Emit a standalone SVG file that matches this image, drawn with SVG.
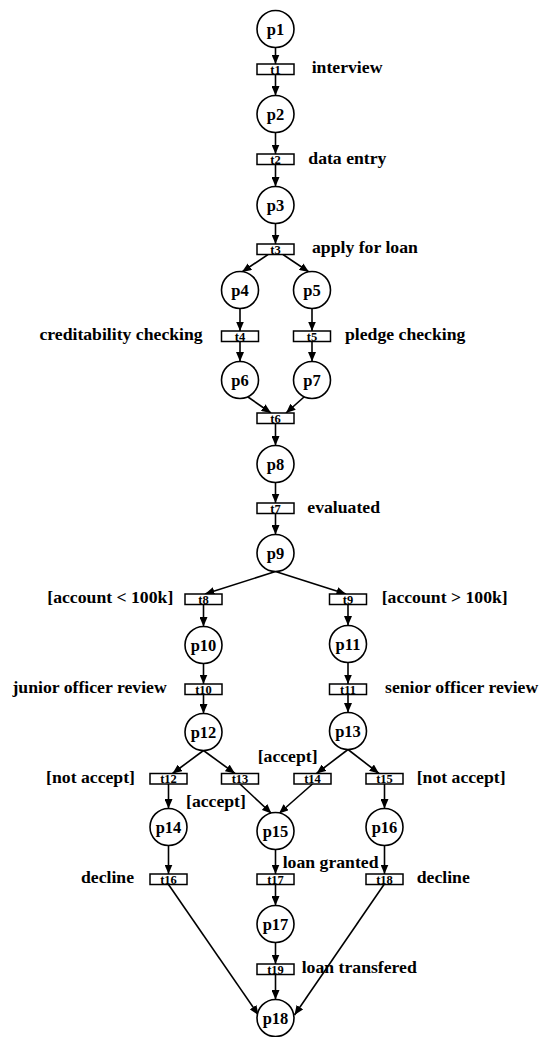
<svg xmlns="http://www.w3.org/2000/svg" width="541" height="1037" viewBox="0 0 541 1037">
  <style>
    .place { fill: #ffffff; stroke: #000000; stroke-width: 1.6; }
    .trans { fill: #ffffff; stroke: #000000; stroke-width: 1.5; }
    .arc { fill: none; stroke: #000000; stroke-width: 1.6; marker-end: url(#arrow); }
    text { font-family: "Liberation Serif", "Times New Roman", serif; font-weight: bold; fill: #000000; }
    .pl { font-size: 16.5px; text-anchor: middle; }
    .tl { font-size: 12.5px; text-anchor: middle; }
    .lab { font-size: 17.7px; }
    .end { text-anchor: end; }
  </style>
  <defs>
    <marker id="arrow" markerUnits="userSpaceOnUse" markerWidth="10" markerHeight="8" refX="9.5" refY="4" orient="auto">
      <path d="M0,0 L9.5,4 L0,8 z" fill="#000000"/>
    </marker>
  </defs>
  <rect width="541" height="1037" fill="#ffffff"/>

  <!-- arcs -->
  <g id="connectors">
    <line class="arc" x1="275.5" y1="47.5" x2="275.5" y2="64"/>
    <line class="arc" x1="275.5" y1="74.5" x2="275.5" y2="95.5"/>
    <line class="arc" x1="275.5" y1="132.5" x2="275.5" y2="154"/>
    <line class="arc" x1="275.5" y1="164.5" x2="275.5" y2="186.5"/>
    <line class="arc" x1="275.5" y1="223.5" x2="275.5" y2="244"/>
    <line class="arc" x1="268" y1="254.5" x2="242" y2="272"/>
    <line class="arc" x1="283" y1="254.5" x2="309" y2="272"/>
    <line class="arc" x1="240" y1="308.5" x2="240" y2="331"/>
    <line class="arc" x1="312" y1="308.5" x2="312" y2="331"/>
    <line class="arc" x1="240" y1="341.5" x2="240" y2="361.5"/>
    <line class="arc" x1="312" y1="341.5" x2="312" y2="361.5"/>
    <line class="arc" x1="248" y1="397" x2="271" y2="413"/>
    <line class="arc" x1="304" y1="397" x2="286" y2="413"/>
    <line class="arc" x1="275.5" y1="423.5" x2="275.5" y2="445.5"/>
    <line class="arc" x1="275.5" y1="482.5" x2="275.5" y2="503"/>
    <line class="arc" x1="275.5" y1="513.5" x2="275.5" y2="534.5"/>
    <line class="arc" x1="275.5" y1="571.5" x2="205" y2="594"/>
    <line class="arc" x1="275.5" y1="571.5" x2="346" y2="594"/>
    <line class="arc" x1="203.5" y1="604.5" x2="203.5" y2="626.5"/>
    <line class="arc" x1="348" y1="604.5" x2="348" y2="625.5"/>
    <line class="arc" x1="203.5" y1="663.5" x2="203.5" y2="684"/>
    <line class="arc" x1="348" y1="662.5" x2="348" y2="684"/>
    <line class="arc" x1="203.5" y1="694.5" x2="203.5" y2="713.5"/>
    <line class="arc" x1="348" y1="694.5" x2="348" y2="712.5"/>
    <line class="arc" x1="203.5" y1="750.5" x2="172.5" y2="773.5"/>
    <line class="arc" x1="203.5" y1="750.5" x2="235" y2="773.5"/>
    <line class="arc" x1="348" y1="749.5" x2="316.5" y2="773.5"/>
    <line class="arc" x1="348" y1="749.5" x2="379" y2="773.5"/>
    <line class="arc" x1="168.5" y1="784" x2="168.5" y2="808.5"/>
    <line class="arc" x1="240" y1="784" x2="271.5" y2="813.5"/>
    <line class="arc" x1="312.5" y1="784" x2="279" y2="813.5"/>
    <line class="arc" x1="384.5" y1="784" x2="384.5" y2="808.5"/>
    <line class="arc" x1="168.5" y1="845.5" x2="168.5" y2="874"/>
    <line class="arc" x1="275.5" y1="849.5" x2="275.5" y2="874"/>
    <line class="arc" x1="384.5" y1="845.5" x2="384.5" y2="874"/>
    <line class="arc" x1="275.5" y1="884.5" x2="275.5" y2="905.5"/>
    <line class="arc" x1="275.5" y1="942.5" x2="275.5" y2="964"/>
    <line class="arc" x1="275.5" y1="974.5" x2="275.5" y2="999.5"/>
    <line class="arc" x1="168.5" y1="884.5" x2="258.5" y2="1015"/>
    <line class="arc" x1="384" y1="884.5" x2="294.5" y2="1015"/>
  </g>

  <!-- places -->
  <g id="p1"><circle class="place" cx="275.5" cy="29" r="18.5"/><text class="pl" x="275.5" y="34.5">p1</text></g>
  <g id="p2"><circle class="place" cx="275.5" cy="114" r="18.5"/><text class="pl" x="275.5" y="119.5">p2</text></g>
  <g id="p3"><circle class="place" cx="275.5" cy="205" r="18.5"/><text class="pl" x="275.5" y="210.5">p3</text></g>
  <g id="p4"><circle class="place" cx="240" cy="290" r="18.5"/><text class="pl" x="240" y="295.5">p4</text></g>
  <g id="p5"><circle class="place" cx="312" cy="290" r="18.5"/><text class="pl" x="312" y="295.5">p5</text></g>
  <g id="p6"><circle class="place" cx="240" cy="380" r="18.5"/><text class="pl" x="240" y="385.5">p6</text></g>
  <g id="p7"><circle class="place" cx="312" cy="380" r="18.5"/><text class="pl" x="312" y="385.5">p7</text></g>
  <g id="p8"><circle class="place" cx="275.5" cy="464" r="18.5"/><text class="pl" x="275.5" y="469.5">p8</text></g>
  <g id="p9"><circle class="place" cx="275.5" cy="553" r="18.5"/><text class="pl" x="275.5" y="558.5">p9</text></g>
  <g id="p10"><circle class="place" cx="203.5" cy="645" r="18.5"/><text class="pl" x="203.5" y="650.5">p10</text></g>
  <g id="p11"><circle class="place" cx="348" cy="644" r="18.5"/><text class="pl" x="348" y="649.5">p11</text></g>
  <g id="p12"><circle class="place" cx="203.5" cy="732" r="18.5"/><text class="pl" x="203.5" y="737.5">p12</text></g>
  <g id="p13"><circle class="place" cx="348" cy="731" r="18.5"/><text class="pl" x="348" y="736.5">p13</text></g>
  <g id="p14"><circle class="place" cx="168.5" cy="827" r="18.5"/><text class="pl" x="168.5" y="832.5">p14</text></g>
  <g id="p15"><circle class="place" cx="275.5" cy="831" r="18.5"/><text class="pl" x="275.5" y="836.5">p15</text></g>
  <g id="p16"><circle class="place" cx="384.5" cy="827" r="18.5"/><text class="pl" x="384.5" y="832.5">p16</text></g>
  <g id="p17"><circle class="place" cx="275.5" cy="924" r="18.5"/><text class="pl" x="275.5" y="929.5">p17</text></g>
  <g id="p18"><circle class="place" cx="275.5" cy="1018" r="18.5"/><text class="pl" x="275.5" y="1023.5">p18</text></g>

  <!-- transitions -->
  <g id="t1"><rect class="trans" x="257" y="64" width="37" height="10.5"/><text class="tl" x="275.5" y="73.5">t1</text></g>
  <g id="t2"><rect class="trans" x="257" y="154" width="37" height="10.5"/><text class="tl" x="275.5" y="163.5">t2</text></g>
  <g id="t3"><rect class="trans" x="257" y="244" width="37" height="10.5"/><text class="tl" x="275.5" y="253.5">t3</text></g>
  <g id="t4"><rect class="trans" x="221.5" y="331" width="37" height="10.5"/><text class="tl" x="240" y="340.5">t4</text></g>
  <g id="t5"><rect class="trans" x="293.5" y="331" width="37" height="10.5"/><text class="tl" x="312" y="340.5">t5</text></g>
  <g id="t6"><rect class="trans" x="257" y="413" width="37" height="10.5"/><text class="tl" x="275.5" y="422.5">t6</text></g>
  <g id="t7"><rect class="trans" x="257" y="503" width="37" height="10.5"/><text class="tl" x="275.5" y="512.5">t7</text></g>
  <g id="t8"><rect class="trans" x="185" y="594" width="37" height="10.5"/><text class="tl" x="203.5" y="603.5">t8</text></g>
  <g id="t9"><rect class="trans" x="329.5" y="594" width="37" height="10.5"/><text class="tl" x="348" y="603.5">t9</text></g>
  <g id="t10"><rect class="trans" x="185" y="684" width="37" height="10.5"/><text class="tl" x="203.5" y="693.5">t10</text></g>
  <g id="t11"><rect class="trans" x="329.5" y="684" width="37" height="10.5"/><text class="tl" x="348" y="693.5">t11</text></g>
  <g id="t12"><rect class="trans" x="150" y="773.5" width="37" height="10.5"/><text class="tl" x="168.5" y="783">t12</text></g>
  <g id="t13"><rect class="trans" x="221.5" y="773.5" width="37" height="10.5"/><text class="tl" x="240" y="783">t13</text></g>
  <g id="t14"><rect class="trans" x="294" y="773.5" width="37" height="10.5"/><text class="tl" x="312.5" y="783">t14</text></g>
  <g id="t15"><rect class="trans" x="366" y="773.5" width="37" height="10.5"/><text class="tl" x="384.5" y="783">t15</text></g>
  <g id="t16"><rect class="trans" x="150" y="874" width="37" height="10.5"/><text class="tl" x="168.5" y="883.5">t16</text></g>
  <g id="t17"><rect class="trans" x="257" y="874" width="37" height="10.5"/><text class="tl" x="275.5" y="883.5">t17</text></g>
  <g id="t18"><rect class="trans" x="366" y="874" width="37" height="10.5"/><text class="tl" x="384.5" y="883.5">t18</text></g>
  <g id="t19"><rect class="trans" x="257" y="964" width="37" height="10.5"/><text class="tl" x="275.5" y="973.5">t19</text></g>

  <!-- activity and guard labels -->
  <g id="labels">
    <text class="lab" x="311.7" y="73">interview</text>
    <text class="lab" x="308.3" y="163.5">data entry</text>
    <text class="lab" x="312" y="253">apply for loan</text>
    <text class="lab end" x="202.7" y="339.5">creditability checking</text>
    <text class="lab" x="345" y="339.5">pledge checking</text>
    <text class="lab" x="307.3" y="513">evaluated</text>
    <text class="lab end" x="173.3" y="603">[account &lt; 100k]</text>
    <text class="lab" x="381.7" y="603">[account &gt; 100k]</text>
    <text class="lab end" x="166.7" y="693">junior officer review</text>
    <text class="lab" x="385" y="693">senior officer review</text>
    <text class="lab end" x="135" y="783">[not accept]</text>
    <text class="lab" x="416.7" y="783">[not accept]</text>
    <text class="lab" x="257.7" y="761.5">[accept]</text>
    <text class="lab" x="186" y="806.5">[accept]</text>
    <text class="lab" x="282.7" y="867.5">loan granted</text>
    <text class="lab end" x="134" y="883">decline</text>
    <text class="lab" x="416.7" y="883">decline</text>
    <text class="lab" x="301.7" y="973">loan transfered</text>
  </g>
</svg>
